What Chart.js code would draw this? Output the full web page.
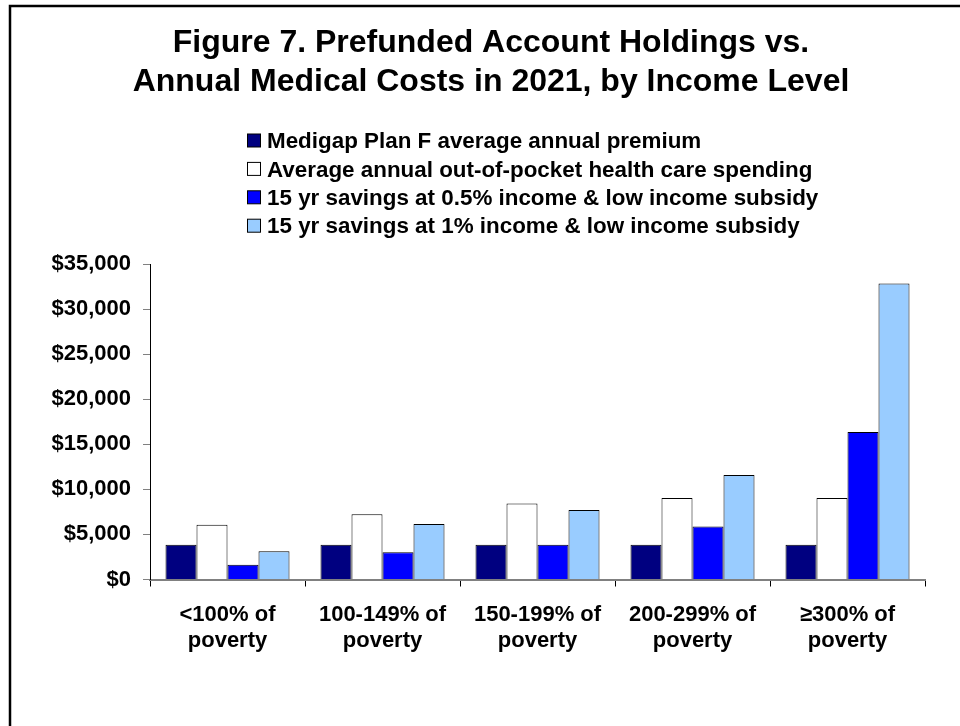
<!DOCTYPE html>
<html>
<head>
<meta charset="utf-8">
<script src="https://cdn.jsdelivr.net/npm/chart.js@4/dist/chart.umd.min.js"></script>
<style>
  html, body { margin: 0; padding: 0; background: #fff; }
  #chart { display: block; }
</style>
</head>
<body>
<canvas id="chart" width="960" height="726"></canvas>
<script>
const categories = [
  ['<100% of', 'poverty'],
  ['100-149% of', 'poverty'],
  ['150-199% of', 'poverty'],
  ['200-299% of', 'poverty'],
  ['\u2265300% of', 'poverty'],
];
const seriesLabels = [
  'Medigap Plan F average annual premium',
  'Average annual out-of-pocket health care spending',
  '15 yr savings at 0.5% income & low income subsidy',
  '15 yr savings at 1% income & low income subsidy',
];
const premium = [3850, 3850, 3850, 3850, 3850];
const outOfPocket = [6060, 7240, 8420, 9030, 9030];
const savingsHalfPct = [1630, 3030, 3850, 5870, 16370];
const savingsOnePct = [3140, 6170, 7720, 11600, 32850];
const yTicks = [0, 5000, 10000, 15000, 20000, 25000, 30000, 35000];
const titleLines = [
  'Figure 7. Prefunded Account Holdings vs.',
  'Annual Medical Costs in 2021, by Income Level',
];
const colors = ['#000080', '#ffffff', '#0000ff', '#99ccff'];

const FONT = 'Arial, "Liberation Sans", sans-serif';

const frameAndTextPlugin = {
  id: 'frameAndText',
  afterDraw(chart) {
    const ctx = chart.ctx;
    ctx.save();
    // outer frame (only top and left edges are inside the picture)
    ctx.strokeStyle = '#000';
    ctx.lineWidth = 2.5;
    ctx.beginPath();
    ctx.moveTo(10, 740);
    ctx.lineTo(10, 6);
    ctx.lineTo(980, 6);
    ctx.stroke();

    // title
    ctx.fillStyle = '#000';
    ctx.font = 'bold 32px ' + FONT;
    ctx.textAlign = 'center';
    ctx.textBaseline = 'alphabetic';
    ctx.fillText(titleLines[0], 491, 52);
    ctx.fillText(titleLines[1], 491, 91);

    // legend, one entry per row
    ctx.font = 'bold 22.4px ' + FONT;
    ctx.textAlign = 'left';
    ctx.textBaseline = 'middle';
    chart.data.datasets.forEach((ds, i) => {
      const cy = 141 + i * 28.4;
      ctx.fillStyle = ds.backgroundColor;
      ctx.fillRect(247.5, cy - 7, 13, 13);
      ctx.strokeStyle = '#000';
      ctx.lineWidth = 1;
      ctx.strokeRect(247.5, cy - 7, 13, 13);
      ctx.fillStyle = '#000';
      ctx.fillText(ds.label, 267, cy + 1);
    });
    ctx.restore();
  },
};

const datasets = [premium, outOfPocket, savingsHalfPct, savingsOnePct].map((values, i) => ({
  label: seriesLabels[i],
  data: values,
  backgroundColor: colors[i],
  borderColor: '#000',
  borderWidth: 1,
  borderSkipped: 'bottom',
  categoryPercentage: 0.8,
  barPercentage: 1.0,
}));

new Chart(document.getElementById('chart').getContext('2d'), {
  type: 'bar',
  data: { labels: categories, datasets },
  options: {
    responsive: false,
    animation: false,
    layout: { padding: { left: 0, right: 35, top: 264, bottom: 0 } },
    plugins: {
      legend: { display: false },
      title: { display: false },
      tooltip: { enabled: false },
    },
    scales: {
      x: {
        afterFit(scale) { scale.height = 146.5; },
        grid: {
          offset: true,
          drawOnChartArea: false,
          drawTicks: true,
          tickLength: 7,
          color: '#000',
        },
        border: { display: true, color: '#808080', width: 2 },
        ticks: {
          color: '#000',
          padding: 15,
          maxRotation: 0,
          font: { family: FONT, size: 22, weight: 'bold', lineHeight: 1.2 },
        },
      },
      y: {
        min: 0,
        max: 35000,
        afterFit(scale) { scale.width = 150; },
        afterBuildTicks(scale) { scale.ticks = yTicks.map(v => ({ value: v })); },
        grid: {
          drawOnChartArea: false,
          drawTicks: true,
          tickLength: 7,
          color: '#808080',
        },
        border: { display: true, color: '#000', width: 1 },
        ticks: {
          color: '#000',
          padding: 12,
          font: { family: FONT, size: 22, weight: 'bold' },
          callback: (v) => '$' + Number(v).toLocaleString('en-US'),
        },
      },
    },
  },
  plugins: [frameAndTextPlugin],
});
</script>
</body>
</html>
